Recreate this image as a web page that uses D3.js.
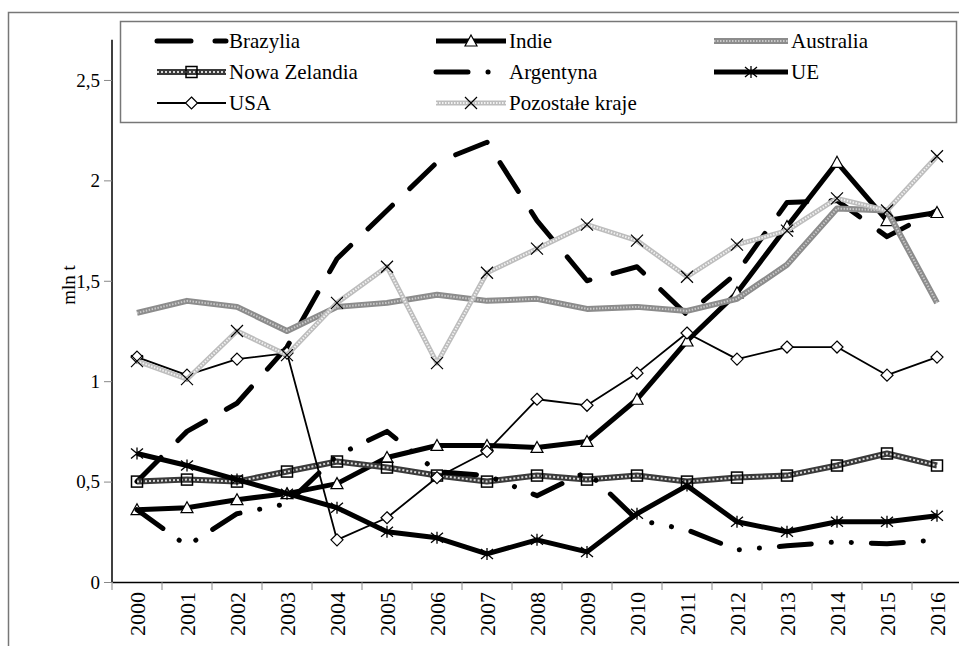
<!DOCTYPE html>
<html lang="pl">
<head>
<meta charset="UTF-8">
<title>mln t</title>
<script src="https://cdn.jsdelivr.net/npm/d3@7"></script>
<style>
  body { margin: 0; background: #fff; }
  text { font-family: "Liberation Serif", "Times New Roman", serif; fill: #000; }
</style>
</head>
<body>
<svg width="959" height="646"></svg>
<script>
// data (mln t)
const years = ['2000','2001','2002','2003','2004','2005','2006','2007','2008',
               '2009','2010','2011','2012','2013','2014','2015','2016'];
const brazylia   = [0.50, 0.75, 0.89, 1.17, 1.61, 1.85, 2.09, 2.19, 1.80, 1.50, 1.57, 1.33, 1.54, 1.89, 1.90, 1.72, 1.85];
const indie      = [0.36, 0.37, 0.41, 0.44, 0.49, 0.62, 0.68, 0.68, 0.67, 0.70, 0.91, 1.20, 1.44, 1.77, 2.09, 1.80, 1.84];
const australia  = [1.34, 1.40, 1.37, 1.25, 1.37, 1.39, 1.43, 1.40, 1.41, 1.36, 1.37, 1.35, 1.41, 1.58, 1.86, 1.85, 1.39];
const nowaZel    = [0.50, 0.51, 0.50, 0.55, 0.60, 0.57, 0.53, 0.50, 0.53, 0.51, 0.53, 0.50, 0.52, 0.53, 0.58, 0.64, 0.58];
const argentyna  = [0.36, 0.18, 0.34, 0.39, 0.63, 0.75, 0.55, 0.53, 0.43, 0.55, 0.31, 0.26, 0.16, 0.18, 0.20, 0.19, 0.21];
const ue         = [0.64, 0.58, 0.51, 0.44, 0.37, 0.25, 0.22, 0.14, 0.21, 0.15, 0.34, 0.48, 0.30, 0.25, 0.30, 0.30, 0.33];
const usa        = [1.12, 1.03, 1.11, 1.14, 0.21, 0.32, 0.52, 0.65, 0.91, 0.88, 1.04, 1.24, 1.11, 1.17, 1.17, 1.03, 1.12];
const pozostale  = [1.10, 1.01, 1.25, 1.13, 1.39, 1.57, 1.09, 1.54, 1.66, 1.78, 1.70, 1.52, 1.68, 1.75, 1.91, 1.85, 2.12];
const yTicks = [0, 0.5, 1, 1.5, 2, 2.5];

const series = [
  {name: 'Brazylia', values: brazylia, marker: null,
   layers: [{c: '#000', w: 5, dash: '34,24', cap: 'round'}]},
  {name: 'Indie', values: indie, marker: 'triangle',
   layers: [{c: '#000', w: 5}]},
  {name: 'Australia', values: australia, marker: null,
   layers: [{c: '#8c8c8c', w: 6}, {c: '#c8c8c8', w: 2, dash: '1.5,1.5'}]},
  {name: 'Nowa Zelandia', values: nowaZel, marker: 'square',
   layers: [{c: '#3a3a3a', w: 6}, {c: '#d8d8d8', w: 2, dash: '2,2'}]},
  {name: 'Argentyna', values: argentyna, marker: null,
   layers: [{c: '#000', w: 5, dash: '32,20,0.1,20,0.1,20', cap: 'round'}]},
  {name: 'UE', values: ue, marker: 'star',
   layers: [{c: '#000', w: 5}]},
  {name: 'USA', values: usa, marker: 'diamond',
   layers: [{c: '#000', w: 1.8}]},
  {name: 'Pozostałe kraje', values: pozostale, marker: 'cross',
   layers: [{c: '#bdbdbd', w: 5}, {c: '#f2f2f2', w: 2, dash: '1.5,1.5'}]}
];

const svg = d3.select('svg');
const fmt = d3.formatLocale({decimal: ',', thousands: ' ', grouping: [3], currency: ['', '']}).format('~g');

// outer frame
svg.append('rect').attr('x', 8.5).attr('y', 12.5).attr('width', 1000).attr('height', 1000)
  .attr('fill', 'none').attr('stroke', '#777').attr('stroke-width', 1.5);

const x = d3.scaleBand().domain(years).range([112, 962]);
const y = d3.scaleLinear().domain([0, 2.7]).range([582, 39.8]);
const cx = d => x(d) + x.bandwidth() / 2;

// axes
let yAxis = svg.append('g')
  .attr('transform', 'translate(112,0)')
  .call(d3.axisLeft(y).tickValues(yTicks).tickFormat(fmt).tickSize(8).tickPadding(4));
yAxis.select('.domain').attr('stroke', '#000').attr('stroke-width', 1.5)
  .attr('d', 'M0,' + y(2.7) + 'V' + y(0));
yAxis.selectAll('.tick line').attr('stroke', '#888');
yAxis.selectAll('.tick text').style('font-size', '19px').attr('dy', '0.33em');

let xAxis = svg.append('g')
  .attr('transform', 'translate(0,' + y(0) + ')')
  .call(d3.axisBottom(x).tickSize(0).tickPadding(10));
xAxis.select('.domain').attr('stroke', '#000').attr('stroke-width', 1.5);
xAxis.selectAll('.tick text')
  .style('font-size', '22px')
  .attr('text-anchor', 'end')
  .attr('transform', 'rotate(-90)')
  .attr('x', -10).attr('y', 0).attr('dy', '0.35em');
xAxis.selectAll('line.edge')
  .data(years.concat(['end']))
  .enter().append('line').attr('class', 'edge')
  .attr('x1', d => d === 'end' ? x.range()[1] : x(d))
  .attr('x2', d => d === 'end' ? x.range()[1] : x(d))
  .attr('y1', 0).attr('y2', 8).attr('stroke', '#888');

svg.append('text')
  .attr('transform', 'translate(75,285) rotate(-90)')
  .attr('text-anchor', 'middle')
  .style('font-size', '19px')
  .text('mln t');

// marker shapes
function marker(g, type, px, py) {
  if (type === 'triangle') {
    g.append('path').attr('d', `M${px},${py - 6}L${px + 6},${py + 5}L${px - 6},${py + 5}Z`)
      .attr('fill', '#fff').attr('stroke', '#000').attr('stroke-width', 1.2);
  } else if (type === 'square') {
    g.append('rect').attr('x', px - 5.5).attr('y', py - 5.5).attr('width', 11).attr('height', 11)
      .attr('fill', 'none').attr('stroke', '#000').attr('stroke-width', 1.5);
  } else if (type === 'diamond') {
    g.append('path').attr('d', `M${px},${py - 6}L${px + 6},${py}L${px},${py + 6}L${px - 6},${py}Z`)
      .attr('fill', '#fff').attr('stroke', '#000').attr('stroke-width', 1.2);
  } else if (type === 'star') {
    g.append('path').attr('d', `M${px},${py - 6}V${py + 6}M${px - 6},${py - 5}L${px + 6},${py + 5}M${px - 6},${py + 5}L${px + 6},${py - 5}`)
      .attr('stroke', '#000').attr('stroke-width', 1.3);
  } else if (type === 'cross') {
    g.append('path').attr('d', `M${px - 6},${py - 6}L${px + 6},${py + 6}M${px - 6},${py + 6}L${px + 6},${py - 6}`)
      .attr('stroke', '#000').attr('stroke-width', 1.2);
  }
}

function strokeLayers(g, d, layers) {
  layers.forEach(l => {
    g.append('path').attr('d', d)
      .attr('fill', 'none')
      .attr('stroke', l.c)
      .attr('stroke-width', l.w)
      .attr('stroke-dasharray', l.dash || null)
      .attr('stroke-linecap', l.cap || 'butt')
      .attr('stroke-linejoin', 'round');
  });
}

const line = d3.line().x((d, i) => cx(years[i])).y(d => y(d));

series.forEach(s => {
  let g = svg.append('g');
  strokeLayers(g, line(s.values), s.layers);
  if (s.marker) s.values.forEach((v, i) => marker(g, s.marker, cx(years[i]), y(v)));
});

// legend
svg.append('rect').attr('x', 120.5).attr('y', 21.5).attr('width', 836).attr('height', 101)
  .attr('fill', '#fff').attr('stroke', '#777').attr('stroke-width', 1.5);
const colX = [[157, 226], [436, 506], [714, 788]];
const rowY = [41, 72, 103];
series.forEach((s, i) => {
  let c = colX[i % 3], ry = rowY[Math.floor(i / 3)];
  let g = svg.append('g');
  strokeLayers(g, `M${c[0]},${ry}H${c[1]}`, s.layers);
  if (s.marker) marker(g, s.marker, (c[0] + c[1]) / 2, ry);
  g.append('text').attr('x', c[1] + 3).attr('y', ry).attr('dy', '0.35em')
    .style('font-size', '21px').text(s.name);
});
</script>
</body>
</html>
